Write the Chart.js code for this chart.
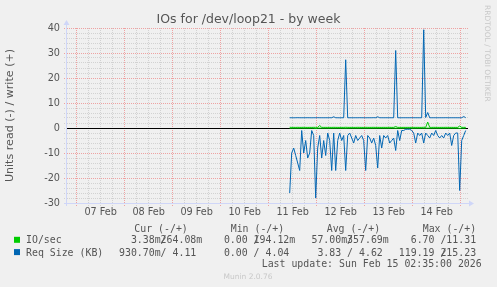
<!DOCTYPE html>
<html>
<head>
<meta charset="utf-8">
<script src="https://cdn.jsdelivr.net/npm/chart.js@4.4.1/dist/chart.umd.min.js"></script>
<style>
  html, body { margin: 0; padding: 0; background: #f0f0f0; }
  #wrap { width: 497px; height: 287px; }
</style>
</head>
<body>
<div id="wrap"><canvas id="ioChart" width="497" height="287"></canvas></div>
<script>
// x axis: hours since 07 Feb 00:00, one label per day (drawn at noon)
const dayLabels = ['07 Feb', '08 Feb', '09 Feb', '10 Feb', '11 Feb', '12 Feb', '13 Feb', '14 Feb'];
const firstSampleHour = 106.5;   // 11 Feb 10:30, one sample per hour after that

// Req Size (KB): write is plotted up, read is plotted down
const reqSizeWrite = [
  4.1, 4.1, 4.08, 4.1, 4.12, 4.1, 4.09, 4.1, 4.1, 4.11, 4.1, 4.08, 4.1, 4.1, 4.12,
  4.1, 4.1, 4.09, 4.1, 4.1, 4.11, 4.1, 4.5, 4.1, 4.1, 4.08, 4.1, 4.1, 27.3, 4.1,
  4.1, 4.1, 4.09, 4.1, 4.1, 4.11, 4.1, 4.1, 4.08, 4.1,
  4.1, 4.1, 4.12, 4.1, 4.5, 4.1, 4.1, 4.09, 4.1, 4.1,
  4.1, 4.1, 4.1, 31.0, 4.1, 4.1, 4.09, 4.1, 4.1, 4.1,
  4.1, 4.11, 4.1, 4.1, 4.1, 4.09, 4.1, 39.3, 4.2, 6.2,
  4.1, 4.1, 4.1, 4.1, 4.09, 4.1, 4.1, 4.1, 4.11, 4.1,
  4.1, 4.1, 4.1, 4.1, 4.1, 4.1, 4.1, 4.6, 4.11
];
const reqSizeRead = [
  -26, -10, -8, -11, -14, -17, -1, -10, -5, -12, -10, -1, -3, -28, -8,
  -3, -12, -5, -11, -2, -5, -17, -2, -17, -5, -2, -5, -3, -17, -3,
  -2, -4, -6, -3, -5, -4, -3, -5, -17, -3,
  -4, -6, -4, -7, -16, -3, -8, -3, -4, -3,
  -6, -5, -4, -9, -1, -5, -1, -1, -0.5, -0.5,
  -0.5, -1, -2, -6, -2, -3, -2, -6, -2, -3,
  -4, -2, -3, -1, -3, -4, -3, -4, -2, -3,
  -2, -7, -3, -2, -2, -25, -5, -3, -1
];

// IO/sec
const ioWrite = [
  0.3, 0.25, 0.26, 0.24, 0.27, 0.25, 0.26, 0.28, 0.25, 0.24, 0.26, 0.25, 0.27, 0.26, 0.25,
  1.0, 0.27, 0.25, 0.26, 0.24, 0.26, 0.25, 0.27, 0.26, 0.25, 0.24, 0.26, 0.25, 0.3, 0.26,
  0.25, 0.26, 0.24, 0.25, 0.27, 0.26, 0.25, 0.24, 0.28, 0.26,
  0.25, 0.26, 0.27, 0.25, 0.26, 0.25, 0.24, 0.26, 0.25, 0.26,
  0.27, 0.25, 0.26, 0.6, 0.26, 0.25, 0.24, 0.26, 0.25, 0.26,
  0.25, 0.27, 0.26, 0.25, 0.26, 0.24, 0.26, 0.3, 0.25, 2.4,
  0.26, 0.25, 0.27, 0.26, 0.25, 0.24, 0.26, 0.25, 0.27, 0.26,
  0.25, 0.26, 0.24, 0.25, 0.26, 0.8, 0.27, 0.26, 0.26
];
const ioRead = [
  -0.1, -0.05, -0.04, -0.06, -0.05, -0.05, -0.04, -0.06, -0.05, -0.05, -0.05, -0.04, -0.06, -0.2, -0.05,
  -0.05, -0.06, -0.05, -0.04, -0.05, -0.05, -0.06, -0.05, -0.05, -0.04, -0.05, -0.05, -0.06, -0.1, -0.05,
  -0.05, -0.04, -0.05, -0.05, -0.06, -0.05, -0.05, -0.04, -0.05, -0.05,
  -0.05, -0.06, -0.05, -0.05, -0.04, -0.05, -0.05, -0.05, -0.06, -0.05,
  -0.05, -0.04, -0.05, -0.1, -0.05, -0.05, -0.06, -0.05, -0.05, -0.04,
  -0.05, -0.05, -0.05, -0.06, -0.05, -0.05, -0.04, -0.05, -0.05, -0.05,
  -0.06, -0.05, -0.05, -0.04, -0.05, -0.05, -0.05, -0.06, -0.05, -0.05,
  -0.04, -0.05, -0.05, -0.05, -0.06, -0.2, -0.05, -0.05, -0.0034
];

// legend table (read / write pairs)
const legendNames = ['IO/sec', 'Req Size (KB)'];
const legendColors = ['#00cc00', '#0066b3'];
const legendHeaders = ['Cur (-/+)', 'Min (-/+)', 'Avg (-/+)', 'Max (-/+)'];
const curValues = [['3.38m', '264.08m'], ['930.70m', '4.11']];
const minValues = [['0.00', '194.12m'], ['0.00', '4.04']];
const avgValues = [['57.00m', '357.69m'], ['3.83', '4.62']];
const maxValues = [['6.70', '11.31'], ['119.19', '215.23']];
const lastUpdate = 'Last update: Sun Feb 15 02:35:00 2026';

const hours = reqSizeRead.map((_, i) => firstSampleHour + i);
const toPoints = arr => arr.map((v, i) => ({ x: hours[i], y: v }));

const textColor = '#555';
const majorGrid = '#eea2a2';
const minorGrid = '#d2d2d2';
const axisColor = '#cfd6f8';
const dotted = [1, 1];

const muninDecor = {
  id: 'muninDecor',
  afterDraw(chart) {
    const { ctx, chartArea: a } = chart;
    ctx.save();

    // axes with arrow heads
    ctx.strokeStyle = axisColor;
    ctx.fillStyle = axisColor;
    ctx.lineWidth = 1;
    ctx.beginPath();
    ctx.moveTo(a.left - 3, a.bottom + 0.5);
    ctx.lineTo(a.right + 2, a.bottom + 0.5);
    ctx.moveTo(a.left - 0.5, a.bottom + 3);
    ctx.lineTo(a.left - 0.5, a.top - 3);
    ctx.stroke();
    ctx.beginPath();
    ctx.moveTo(a.right + 1, a.bottom + 0.5 - 3);
    ctx.lineTo(a.right + 6, a.bottom + 0.5);
    ctx.lineTo(a.right + 1, a.bottom + 0.5 + 3);
    ctx.closePath();
    ctx.fill();
    ctx.beginPath();
    ctx.moveTo(a.left - 0.5 - 3, a.top - 3);
    ctx.lineTo(a.left - 0.5, a.top - 8);
    ctx.lineTo(a.left - 0.5 + 3, a.top - 3);
    ctx.closePath();
    ctx.fill();

    // vertical watermark
    ctx.save();
    ctx.translate(484.5, 5);
    ctx.rotate(Math.PI / 2);
    ctx.fillStyle = '#c8c8c8';
    ctx.font = "7.5px 'DejaVu Sans'";
    ctx.textBaseline = 'alphabetic';
    ctx.fillText('RRDTOOL / TOBI OETIKER', 0, 0);
    ctx.restore();

    // legend
    ctx.font = "9.9px 'DejaVu Sans Mono'";
    ctx.fillStyle = textColor;
    ctx.textBaseline = 'alphabetic';
    const cw = ctx.measureText('0').width;
    const headerX = [134.3, 230.7, 326.7, 422.7];
    legendHeaders.forEach((h, i) => ctx.fillText(h, headerX[i], 231.5));

    const cellX = [119, 212, 305.5, 398.8];
    const columns = [curValues, minValues, avgValues, maxValues];
    const rowY = [243.3, 255.6];
    const split = s => {
      const m = s.match(/^([\d.]+)(\D?)$/);
      return [m[1].padStart(6, ' '), m[2] || ' '];
    };
    legendNames.forEach((name, r) => {
      ctx.fillStyle = legendColors[r];
      ctx.fillRect(14, rowY[r] - 6.5, 6, 6);
      ctx.fillStyle = textColor;
      ctx.fillText(name, 26, rowY[r]);
      columns.forEach((col, c) => {
        const [readStr, writeStr] = col[r];
        const [rn, ru] = split(readStr);
        const [wn, wu] = split(writeStr);
        const x0 = cellX[c];
        ctx.fillText(rn + ru, x0, rowY[r]);
        ctx.fillText('/', x0 + 7 * cw, rowY[r]);
        ctx.fillText(wn + wu, x0 + 7 * cw, rowY[r]);
      });
    });
    ctx.fillText(lastUpdate, 261.7, 267.3);

    ctx.fillStyle = '#c8c8c8';
    ctx.font = "7.5px 'DejaVu Sans'";
    ctx.textAlign = 'center';
    ctx.fillText('Munin 2.0.76', 248, 278.5);
    ctx.restore();
  }
};

new Chart(document.getElementById('ioChart'), {
  type: 'line',
  data: {
    datasets: [
      { label: 'Req Size read', data: toPoints(reqSizeRead), borderColor: '#0066b3', borderWidth: 1 },
      { label: 'Req Size write', data: toPoints(reqSizeWrite), borderColor: '#0066b3', borderWidth: 1 },
      { label: 'IO/sec read', data: toPoints(ioRead), borderColor: '#00cc00', borderWidth: 1 },
      { label: 'IO/sec write', data: toPoints(ioWrite), borderColor: '#00cc00', borderWidth: 1 }
    ]
  },
  options: {
    responsive: false,
    animation: false,
    events: [],
    elements: { point: { radius: 0 }, line: { tension: 0 } },
    layout: { padding: 0 },
    plugins: {
      legend: { display: false },
      tooltip: { enabled: false },
      title: {
        display: true,
        text: 'IOs for /dev/loop21 - by week',
        color: textColor,
        font: { family: 'DejaVu Sans', size: 12.5, weight: 'normal' },
        padding: { top: 11.8, bottom: 1.2 }
      }
    },
    scales: {
      x: {
        type: 'linear',
        min: -4.85,
        max: 195.65,
        afterFit: s => { s.height = 84; },
        afterBuildTicks: s => {
          const t = [];
          for (let h = 0; h <= dayLabels.length * 24; h += 6) t.push({ value: h });
          s.ticks = t;
        },
        ticks: {
          autoSkip: false,
          maxRotation: 0,
          padding: 0.5,
          color: textColor,
          font: { family: 'DejaVu Sans', size: 9.7 },
          callback: v => ((v - 12) % 24 === 0 ? dayLabels[(v - 12) / 24] : '')
        },
        grid: {
          color: c => (c.tick && c.tick.value % 24 === 0 ? majorGrid : minorGrid),
          tickColor: c => (c.tick && c.tick.value % 24 === 0 ? majorGrid : minorGrid),
          tickLength: 3,
          tickBorderDash: dotted,
          lineWidth: 1
        },
        border: { display: false, dash: dotted }
      },
      y: {
        min: -30,
        max: 40,
        afterFit: s => { s.width = 67; },
        ticks: {
          stepSize: 2,
          autoSkip: false,
          padding: 4,
          color: textColor,
          font: { family: 'DejaVu Sans', size: 9.7 },
          callback: v => (v % 10 === 0 ? String(v) : '')
        },
        grid: {
          color: c => {
            const v = c.tick ? c.tick.value : 1;
            if (v === 0) return '#000000';
            return v % 10 === 0 ? majorGrid : minorGrid;
          },
          tickColor: c => (c.tick && c.tick.value % 10 === 0 && c.tick.value !== 0 ? majorGrid : minorGrid),
          tickLength: 3,
          tickBorderDash: dotted,
          lineWidth: 1
        },
        border: {
          display: false,
          dash: c => (c.tick && c.tick.value === 0 ? [] : dotted)
        },
        title: {
          display: true,
          text: 'Units read (-) / write (+)',
          color: textColor,
          font: { family: 'DejaVu Sans', size: 11.1 },
          padding: { top: 3.3, bottom: 0 }
        }
      },
      // empty right-hand strip so the plot stops where the reference's does
      spacer: {
        type: 'linear',
        position: 'right',
        afterFit: s => { s.width = 29; },
        ticks: { display: false },
        grid: { display: false, drawOnChartArea: false },
        border: { display: false }
      }
    }
  },
  plugins: [muninDecor]
});
</script>
</body>
</html>
